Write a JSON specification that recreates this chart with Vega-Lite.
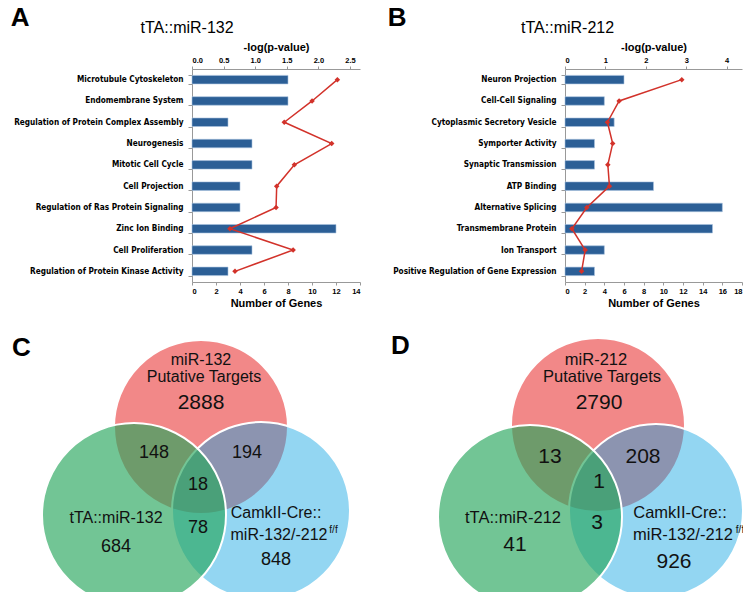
{
  "$schema": "https://vega.github.io/schema/vega-lite/v6.json",
  "background": "white",
  "padding": {"left": 10, "top": 5, "right": 0, "bottom": 0},
  "config": {"view": {"stroke": null}, "font": "Liberation Sans"},
  "datasets": {
    "a": [
      {"rank": 1, "term": "Microtubule Cytoskeleton", "genes": 8, "pval": 2.30},
      {"rank": 2, "term": "Endomembrane System", "genes": 8, "pval": 1.90},
      {"rank": 3, "term": "Regulation of Protein Complex Assembly", "genes": 3, "pval": 1.46},
      {"rank": 4, "term": "Neurogenesis", "genes": 5, "pval": 2.21},
      {"rank": 5, "term": "Mitotic Cell Cycle", "genes": 5, "pval": 1.62},
      {"rank": 6, "term": "Cell Projection", "genes": 4, "pval": 1.34},
      {"rank": 7, "term": "Regulation of Ras Protein Signaling", "genes": 4, "pval": 1.33},
      {"rank": 8, "term": "Zinc Ion Binding", "genes": 12, "pval": 0.60},
      {"rank": 9, "term": "Cell Proliferation", "genes": 5, "pval": 1.60},
      {"rank": 10, "term": "Regulation of Protein Kinase Activity", "genes": 3, "pval": 0.68}
    ],
    "b": [
      {"rank": 1, "term": "Neuron Projection", "genes": 6, "pval": 2.89},
      {"rank": 2, "term": "Cell-Cell Signaling", "genes": 4, "pval": 1.34},
      {"rank": 3, "term": "Cytoplasmic Secretory Vesicle", "genes": 5, "pval": 1.05},
      {"rank": 4, "term": "Symporter Activity", "genes": 3, "pval": 1.18},
      {"rank": 5, "term": "Synaptic Transmission", "genes": 3, "pval": 1.06},
      {"rank": 6, "term": "ATP Binding", "genes": 9, "pval": 1.10},
      {"rank": 7, "term": "Alternative Splicing", "genes": 16, "pval": 0.54},
      {"rank": 8, "term": "Transmembrane Protein", "genes": 15, "pval": 0.17},
      {"rank": 9, "term": "Ion Transport", "genes": 4, "pval": 0.50},
      {"rank": 10, "term": "Positive Regulation of Gene Expression", "genes": 3, "pval": 0.41}
    ],
    "circlesC": [
      {"set": "putative", "x": 19.2, "y": 8.9},
      {"set": "CamkII", "x": 25.2, "y": 17.3},
      {"set": "tTA", "x": 12.5, "y": 17.7}
    ],
    "circlesD": [
      {"set": "putative", "x": 21.3, "y": 8.7},
      {"set": "CamkII", "x": 27.1, "y": 17.3},
      {"set": "tTA", "x": 14.5, "y": 17.9}
    ],
    "textC": [
      {"kind": "label", "text": "miR-132", "x": 19.2, "y": 2.2},
      {"kind": "label", "text": "Putative Targets", "x": 19.5, "y": 3.9},
      {"kind": "big", "text": "2888", "x": 19.2, "y": 6.5},
      {"kind": "num", "text": "148", "x": 14.5, "y": 11.5},
      {"kind": "num", "text": "194", "x": 23.8, "y": 11.5},
      {"kind": "num", "text": "18", "x": 18.9, "y": 14.7},
      {"kind": "label", "text": "tTA::miR-132", "x": 10.7, "y": 18.0},
      {"kind": "num", "text": "78", "x": 18.9, "y": 19.0},
      {"kind": "num", "text": "684", "x": 10.7, "y": 20.9},
      {"kind": "label", "text": "CamkII-Cre::", "x": 26.7, "y": 17.5},
      {"kind": "label", "text": "miR-132/-212", "x": 27.0, "y": 19.7},
      {"kind": "sup", "text": "f/f", "x": 32.45, "y": 19.2},
      {"kind": "num", "text": "848", "x": 26.7, "y": 22.2}
    ],
    "textD": [
      {"kind": "label", "text": "miR-212", "x": 21.1, "y": 2.2},
      {"kind": "label", "text": "Putative Targets", "x": 21.7, "y": 3.9},
      {"kind": "big", "text": "2790", "x": 21.4, "y": 6.5},
      {"kind": "big", "text": "13", "x": 16.5, "y": 11.9},
      {"kind": "big", "text": "208", "x": 25.8, "y": 11.9},
      {"kind": "big", "text": "1", "x": 21.4, "y": 14.4},
      {"kind": "label", "text": "tTA::miR-212", "x": 12.8, "y": 18.0},
      {"kind": "big", "text": "41", "x": 13.0, "y": 20.7},
      {"kind": "big", "text": "3", "x": 21.2, "y": 18.5},
      {"kind": "label", "text": "CamkII-Cre::", "x": 29.5, "y": 17.5},
      {"kind": "label", "text": "miR-132/-212", "x": 29.8, "y": 19.7},
      {"kind": "sup", "text": "f/f", "x": 35.5, "y": 19.2},
      {"kind": "big", "text": "926", "x": 28.9, "y": 22.4}
    ]
  },
  "columns": 2,
  "spacing": {"row": 24, "column": 26},
  "concat": [
    {
      "title": {"text": "A", "anchor": "start", "frame": "bounds", "fontSize": 26, "fontWeight": "bold", "font": "Liberation Sans", "color": "black", "dx": -3, "offset": -11},
      "vconcat": [
        {
          "title": {"text": "tTA::miR-132", "anchor": "middle", "frame": "bounds", "fontSize": 16, "fontWeight": "normal", "font": "Liberation Sans", "color": "black", "offset": 5},
          "width": 168,
          "height": 213,
          "data": {"name": "a"},
          "encoding": {
            "y": {
              "field": "term", "type": "nominal", "sort": {"field": "rank", "op": "min"}, "title": null,
              "scale": {"paddingInner": 0.6, "paddingOuter": 0.3},
              "axis": {"labelFont": "DejaVu Sans Condensed, DejaVu Sans, sans-serif", "labelFontWeight": "bold", "labelFontSize": 8.2, "labelColor": "black", "labelLimit": 0, "labelPadding": 5, "tickBand": "extent", "tickSize": 4, "tickColor": "#999999", "domainColor": "#999999"}
            }
          },
          "layer": [
            {
              "mark": {"type": "bar", "color": "#2c5f96", "stroke": "#a9c3df", "strokeWidth": 0.6},
              "encoding": {
                "x": {
                  "field": "genes", "type": "quantitative", "scale": {"domain": [0, 14]},
                  "axis": {"orient": "bottom", "title": "Number of Genes", "values": [0, 2, 4, 6, 8, 10, 12, 14], "grid": false, "tickSize": 3, "tickColor": "#999999", "domainColor": "#999999", "labelFontSize": 7.5, "labelFontWeight": "bold", "labelColor": "black", "labelPadding": 2, "titleFontSize": 11, "titleFontWeight": "bold", "titleColor": "black", "titlePadding": 3}
                }
              }
            },
            {
              "mark": {"type": "line", "color": "#d2322a", "strokeWidth": 1.5, "point": {"shape": "diamond", "filled": true, "size": 30, "color": "#d2322a", "opacity": 1}},
              "encoding": {
                "x": {
                  "field": "pval", "type": "quantitative", "scale": {"domain": [0, 2.658]},
                  "axis": {"orient": "top", "title": "-log(p-value)", "values": [0, 0.5, 1, 1.5, 2, 2.5], "grid": false, "tickSize": 3, "tickColor": "#999999", "domainColor": "#999999", "labelFontSize": 7.5, "labelFontWeight": "bold", "labelColor": "black", "labelPadding": 2, "titleFontSize": 11, "titleFontWeight": "bold", "titleColor": "black", "titlePadding": 4}
                },
                "order": {"field": "rank"}
              }
            }
          ],
          "resolve": {"scale": {"x": "independent"}}
        }
      ]
    },
    {
      "title": {"text": "B", "anchor": "start", "frame": "bounds", "fontSize": 26, "fontWeight": "bold", "font": "Liberation Sans", "color": "black", "dx": -5, "offset": -11},
      "vconcat": [
        {
          "title": {"text": "tTA::miR-212", "anchor": "middle", "frame": "bounds", "fontSize": 16, "fontWeight": "normal", "font": "Liberation Sans", "color": "black", "offset": 5},
          "width": 177,
          "height": 213,
          "data": {"name": "b"},
          "encoding": {
            "y": {
              "field": "term", "type": "nominal", "sort": {"field": "rank", "op": "min"}, "title": null,
              "scale": {"paddingInner": 0.6, "paddingOuter": 0.3},
              "axis": {"labelFont": "DejaVu Sans Condensed, DejaVu Sans, sans-serif", "labelFontWeight": "bold", "labelFontSize": 8.2, "labelColor": "black", "labelLimit": 0, "labelPadding": 5, "tickBand": "extent", "tickSize": 4, "tickColor": "#999999", "domainColor": "#999999"}
            }
          },
          "layer": [
            {
              "mark": {"type": "bar", "color": "#2c5f96", "stroke": "#a9c3df", "strokeWidth": 0.6},
              "encoding": {
                "x": {
                  "field": "genes", "type": "quantitative", "scale": {"domain": [0, 18]},
                  "axis": {"orient": "bottom", "title": "Number of Genes", "values": [0, 2, 4, 6, 8, 10, 12, 14, 16, 18], "grid": false, "tickSize": 3, "tickColor": "#999999", "domainColor": "#999999", "labelFontSize": 7.5, "labelFontWeight": "bold", "labelColor": "black", "labelPadding": 2, "titleFontSize": 11, "titleFontWeight": "bold", "titleColor": "black", "titlePadding": 3}
                }
              }
            },
            {
              "mark": {"type": "line", "color": "#d2322a", "strokeWidth": 1.5, "point": {"shape": "diamond", "filled": true, "size": 30, "color": "#d2322a", "opacity": 1}},
              "encoding": {
                "x": {
                  "field": "pval", "type": "quantitative", "scale": {"domain": [0, 4.38]},
                  "axis": {"orient": "top", "title": "-log(p-value)", "values": [0, 1, 2, 3, 4], "grid": false, "tickSize": 3, "tickColor": "#999999", "domainColor": "#999999", "labelFontSize": 7.5, "labelFontWeight": "bold", "labelColor": "black", "labelPadding": 2, "titleFontSize": 11, "titleFontWeight": "bold", "titleColor": "black", "titlePadding": 4}
                },
                "order": {"field": "rank"}
              }
            }
          ],
          "resolve": {"scale": {"x": "independent"}}
        }
      ]
    },
    {
      "title": {"text": "C", "anchor": "start", "frame": "group", "fontSize": 26, "fontWeight": "bold", "font": "Liberation Sans", "color": "black", "dx": -180, "offset": -25, "baseline": "top"},
      "width": 160,
      "height": 254,
      "encoding": {
        "x": {"field": "x", "type": "quantitative", "scale": {"domain": [18.3, 34.3]}, "axis": null},
        "y": {"field": "y", "type": "quantitative", "scale": {"domain": [0, 25.4], "reverse": true}, "axis": null}
      },
      "layer": [
        {
          "data": {"name": "circlesC"},
          "transform": [{"filter": "datum.set == 'putative'"}],
          "mark": {"type": "point", "shape": "circle", "filled": true, "opacity": 1, "color": "#f28888", "fillOpacity": 1, "stroke": "white", "strokeWidth": 2, "strokeOpacity": 1, "size": 30276}
        },
        {
          "data": {"name": "circlesC"},
          "transform": [{"filter": "datum.set == 'CamkII'"}],
          "mark": {"type": "point", "shape": "circle", "filled": true, "opacity": 1, "color": "#0fa4e2", "fillOpacity": 0.45, "stroke": "white", "strokeWidth": 2, "strokeOpacity": 1, "size": 31684}
        },
        {
          "data": {"name": "circlesC"},
          "transform": [{"filter": "datum.set == 'tTA'"}],
          "mark": {"type": "point", "shape": "circle", "filled": true, "opacity": 1, "color": "#26a65c", "fillOpacity": 0.65, "stroke": "white", "strokeWidth": 2, "strokeOpacity": 1, "size": 33856}
        },
        {
          "data": {"name": "textC"},
          "transform": [{"filter": "datum.kind == 'label'"}],
          "mark": {"type": "text", "fontSize": 16, "font": "Liberation Sans", "color": "#111111"},
          "encoding": {"text": {"field": "text"}}
        },
        {
          "data": {"name": "textC"},
          "transform": [{"filter": "datum.kind == 'num'"}],
          "mark": {"type": "text", "fontSize": 18, "font": "Liberation Sans", "color": "#111111"},
          "encoding": {"text": {"field": "text"}}
        },
        {
          "data": {"name": "textC"},
          "transform": [{"filter": "datum.kind == 'big'"}],
          "mark": {"type": "text", "fontSize": 21, "font": "Liberation Sans", "color": "#111111"},
          "encoding": {"text": {"field": "text"}}
        },
        {
          "data": {"name": "textC"},
          "transform": [{"filter": "datum.kind == 'sup'"}],
          "mark": {"type": "text", "fontSize": 10, "font": "Liberation Sans", "color": "#111111"},
          "encoding": {"text": {"field": "text"}}
        }
      ]
    },
    {
      "title": {"text": "D", "anchor": "start", "frame": "group", "fontSize": 26, "fontWeight": "bold", "font": "Liberation Sans", "color": "black", "dx": -174, "offset": -25, "baseline": "top"},
      "width": 177,
      "height": 254,
      "encoding": {
        "x": {"field": "x", "type": "quantitative", "scale": {"domain": [18.0, 35.7]}, "axis": null},
        "y": {"field": "y", "type": "quantitative", "scale": {"domain": [0, 25.4], "reverse": true}, "axis": null}
      },
      "layer": [
        {
          "data": {"name": "circlesD"},
          "transform": [{"filter": "datum.set == 'putative'"}],
          "mark": {"type": "point", "shape": "circle", "filled": true, "opacity": 1, "color": "#f28888", "fillOpacity": 1, "stroke": "white", "strokeWidth": 2, "strokeOpacity": 1, "size": 30276}
        },
        {
          "data": {"name": "circlesD"},
          "transform": [{"filter": "datum.set == 'CamkII'"}],
          "mark": {"type": "point", "shape": "circle", "filled": true, "opacity": 1, "color": "#0fa4e2", "fillOpacity": 0.45, "stroke": "white", "strokeWidth": 2, "strokeOpacity": 1, "size": 30276}
        },
        {
          "data": {"name": "circlesD"},
          "transform": [{"filter": "datum.set == 'tTA'"}],
          "mark": {"type": "point", "shape": "circle", "filled": true, "opacity": 1, "color": "#26a65c", "fillOpacity": 0.65, "stroke": "white", "strokeWidth": 2, "strokeOpacity": 1, "size": 33856}
        },
        {
          "data": {"name": "textD"},
          "transform": [{"filter": "datum.kind == 'label'"}],
          "mark": {"type": "text", "fontSize": 16.5, "font": "Liberation Sans", "color": "#111111"},
          "encoding": {"text": {"field": "text"}}
        },
        {
          "data": {"name": "textD"},
          "transform": [{"filter": "datum.kind == 'big'"}],
          "mark": {"type": "text", "fontSize": 21, "font": "Liberation Sans", "color": "#111111"},
          "encoding": {"text": {"field": "text"}}
        },
        {
          "data": {"name": "textD"},
          "transform": [{"filter": "datum.kind == 'sup'"}],
          "mark": {"type": "text", "fontSize": 10, "font": "Liberation Sans", "color": "#111111"},
          "encoding": {"text": {"field": "text"}}
        }
      ]
    }
  ]
}
